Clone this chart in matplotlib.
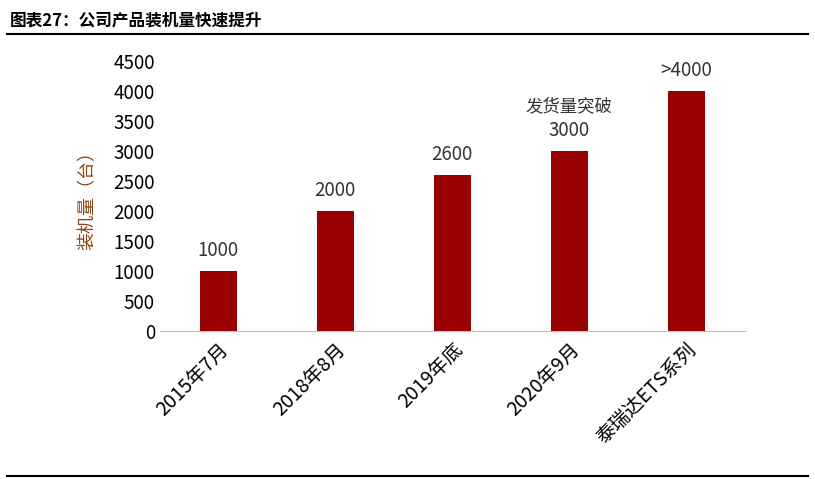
import matplotlib
matplotlib.use("Agg")
import matplotlib.pyplot as plt

plt.rcParams['font.family'] = ['Noto Sans CJK SC', 'DejaVu Sans']

categories = ["2015年7月", "2018年8月", "2019年底", "2020年9月", "泰瑞达ETS系列"]
values = [1000, 2000, 2600, 3000, 4000]
value_labels = ["1000", "2000", "2600", "3000", ">4000"]

fig = plt.figure(figsize=(8.15, 4.79), dpi=100)
ax = fig.add_axes([0.196, 0.309, 0.718, 0.564])

x = range(len(categories))
ax.bar(x, values, width=0.32, color="#990000")
for i, (v, lab) in enumerate(zip(values, value_labels)):
    ax.text(i, v + 170, lab, ha='center', va='bottom', fontsize=13.5, color="#333333")
ax.text(3, 3000 + 600, "发货量突破", ha='center', va='bottom', fontsize=12.5, color="#333333")

ax.set_xlim(-0.5, 4.5)
ax.set_ylim(0, 4500)
ax.set_yticks(range(0, 4501, 500))
ax.set_xticks(list(x))
ax.set_xticklabels(categories, rotation=45, ha='right', rotation_mode='anchor', fontsize=14)
ax.tick_params(axis='y', labelsize=13.5, length=0)
ax.tick_params(axis='x', length=0, pad=6)
for s in ['top', 'right', 'left']:
    ax.spines[s].set_visible(False)
ax.spines['bottom'].set_color("#bfbfbf")
ax.set_ylabel("装机量（台）", fontsize=13, color="#8B4513", labelpad=12)

fig.text(0.012, 0.958, "图表27：公司产品装机量快速提升", fontsize=12, fontweight='bold', va='center')
fig.add_artist(plt.Line2D([0.008, 0.992], [0.93, 0.93], color='black', lw=1.5))
fig.add_artist(plt.Line2D([0.008, 0.992], [0.006, 0.006], color='black', lw=1.5))

fig.savefig("out.png", dpi=100)
